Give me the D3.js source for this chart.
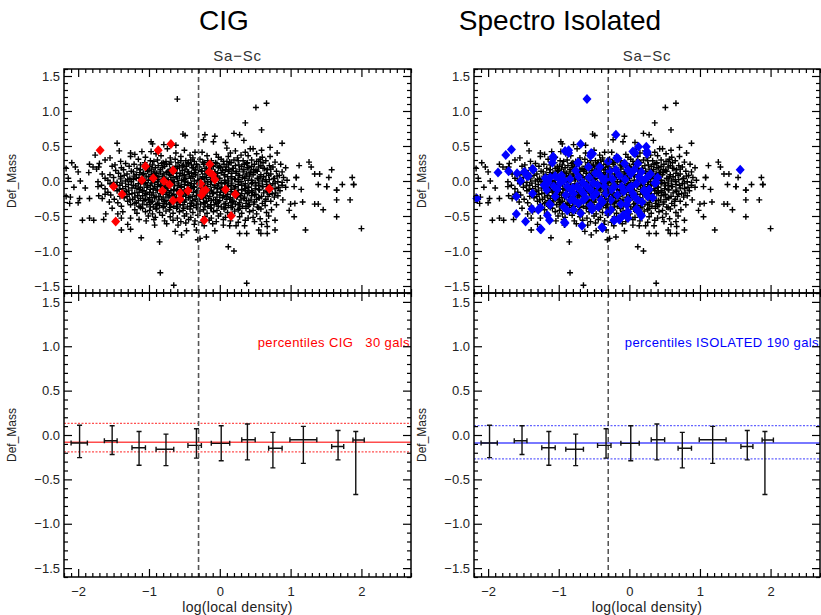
<!DOCTYPE html>
<html>
<head>
<meta charset="UTF-8">
<title>Def_Mass vs log(local density)</title>
<script src="https://d3js.org/d3.v7.min.js"></script>
<style>
  body { margin: 0; background: #fff; }
  text { font-family: "Liberation Sans", Arial, sans-serif; }
</style>
</head>
<body>
<svg id="chart" width="821" height="615"></svg>
<script>
// whole sample (black crosses), same in both top panels
const blackPts = [
  [-0.60,1.17],[0.51,1.05],[0.66,1.11],[0.36,0.83],[0.59,0.73],[0.88,0.54],[0.20,0.68],[0.28,0.66],
  [-0.52,0.67],[-0.49,0.65],[-0.21,0.66],[-0.07,0.64],[-0.23,0.59],[-0.09,0.56],[0.08,0.55],[0.34,0.58],
  [-1.45,0.54],[-0.97,0.56],[-0.95,0.53],[-0.79,0.52],[-0.62,0.51],
  [-1.42,0.43],[-1.10,0.42],[-0.97,0.42],[-0.74,0.46],[-0.50,0.44],[-0.35,0.41],[0.10,0.47],[0.22,0.43],[0.43,0.46],[0.47,0.46],[0.59,0.44],[0.71,0.48],
  [-1.26,0.40],[-1.20,0.38],[-0.90,0.39],[-0.62,0.40],[-0.42,0.37],[-0.25,0.41],[-0.05,0.38],[0.15,0.40],[0.30,0.37],[0.52,0.39],[0.81,0.40],[0.36,0.41],
  [-1.76,0.37],[-1.55,0.33],[-1.26,0.35],[-1.05,0.34],[-0.83,0.36],[-0.70,0.33],[-0.55,0.35],[-0.38,0.33],[-0.18,0.36],[-0.02,0.34],[0.12,0.35],[0.25,0.33],[0.40,0.36],[0.57,0.31],[0.71,0.35],[0.60,0.34],
  [-1.62,0.30],[-1.40,0.28],[-1.15,0.31],[-0.98,0.29],[-0.88,0.30],[-0.76,0.28],[-0.63,0.31],[-0.48,0.29],[-0.41,0.30],[-0.28,0.31],[-0.12,0.29],[0.02,0.31],[0.10,0.28],[0.20,0.30],[0.33,0.29],[0.45,0.30],[0.52,0.28],[0.65,0.29],[0.78,0.27],
  [-2.09,0.26],[-1.84,0.24],[-1.70,0.25],[-1.48,0.23],[-1.33,0.25],[-1.21,0.24],[-1.06,0.26],[-0.95,0.23],[-0.82,0.25],[-0.71,0.24],[-0.59,0.26],[-0.51,0.23],[-0.44,0.25],[-0.33,0.24],[-0.22,0.26],[-0.13,0.23],[-0.04,0.25],[0.06,0.24],[0.16,0.26],[0.27,0.23],[0.38,0.25],[0.49,0.24],[0.61,0.26],[0.70,0.22],[0.86,0.24],
  [-2.04,0.20],[-1.79,0.20],[-1.71,0.20],[-1.52,0.21],[-1.39,0.19],[-1.28,0.21],[-1.17,0.18],[-1.02,0.20],[-0.91,0.19],[-0.78,0.21],[-0.67,0.18],[-0.57,0.20],[-0.47,0.21],[-0.37,0.19],[-0.29,0.20],[-0.19,0.18],[-0.09,0.21],[0.01,0.19],[0.09,0.20],[0.19,0.18],[0.31,0.21],[0.41,0.19],[0.55,0.20],[0.63,0.18],[0.75,0.20],[0.93,0.19],
  [-2.17,0.18],[-1.74,0.17],[-1.47,0.15],[-1.36,0.16],[-1.25,0.14],[-1.12,0.16],[-1.00,0.15],[-0.93,0.13],[-0.84,0.16],[-0.73,0.14],[-0.64,0.16],[-0.53,0.15],[-0.44,0.13],[-0.34,0.16],[-0.25,0.14],[-0.16,0.16],[-0.07,0.13],[0.04,0.15],[0.13,0.16],[0.23,0.14],[0.34,0.16],[0.44,0.13],[0.51,0.15],[0.67,0.16],[0.80,0.14],[0.88,0.13],
  [-2.00,0.13],[-1.85,0.12],[-1.66,0.10],[-1.55,0.09],[-1.43,0.11],[-1.31,0.10],[-1.18,0.09],[-1.08,0.11],[-0.97,0.09],[-0.89,0.11],[-0.79,0.10],[-0.69,0.08],[-0.61,0.11],[-0.50,0.09],[-0.40,0.11],[-0.31,0.09],[-0.21,0.10],[-0.11,0.08],[-0.03,0.11],[0.07,0.09],[0.17,0.11],[0.28,0.08],[0.38,0.10],[0.48,0.12],[0.58,0.09],[0.72,0.10],[0.84,0.08],[1.34,0.10],[1.41,0.10],
  [-2.14,0.04],[-1.62,0.04],[-1.50,0.05],[-1.40,0.06],[-1.27,0.04],[-1.14,0.05],[-1.04,0.07],[-0.95,0.04],[-0.86,0.06],[-0.76,0.03],[-0.66,0.05],[-0.57,0.07],[-0.48,0.04],[-0.38,0.06],[-0.28,0.03],[-0.19,0.05],[-0.09,0.07],[0.00,0.04],[0.11,0.06],[0.21,0.03],[0.32,0.05],[0.42,0.07],[0.53,0.04],[0.62,0.06],[0.76,0.03],[0.90,0.05],[1.08,0.05],[1.54,0.05],[1.87,0.05],
  [-1.97,0.00],[-1.72,-0.01],[-1.58,0.01],[-1.45,-0.02],[-1.33,0.00],[-1.22,0.02],[-1.11,-0.01],[-1.01,0.01],[-0.92,-0.02],[-0.83,0.00],[-0.73,0.02],[-0.64,-0.01],[-0.54,0.01],[-0.45,-0.02],[-0.36,0.00],[-0.26,0.02],[-0.17,-0.01],[-0.08,0.01],[0.02,-0.02],[0.12,0.00],[0.22,0.02],[0.30,-0.01],[0.40,0.01],[0.50,-0.02],[0.60,0.00],[0.70,0.02],[0.82,-0.01],[0.95,0.01],
  [-2.06,-0.09],[-1.67,-0.06],[-1.55,-0.04],[-1.41,-0.06],[-1.29,-0.05],[-1.19,-0.07],[-1.07,-0.04],[-0.98,-0.06],[-0.88,-0.05],[-0.78,-0.07],[-0.69,-0.04],[-0.59,-0.06],[-0.50,-0.05],[-0.41,-0.07],[-0.32,-0.04],[-0.22,-0.06],[-0.13,-0.05],[-0.03,-0.07],[0.07,-0.04],[0.16,-0.06],[0.26,-0.05],[0.35,-0.07],[0.45,-0.04],[0.55,-0.06],[0.66,-0.05],[0.78,-0.03],[0.88,-0.06],[1.39,-0.05],[1.73,-0.05],[1.89,-0.05],
  [-1.90,-0.10],[-1.72,-0.08],[-1.62,-0.11],[-1.50,-0.09],[-1.37,-0.11],[-1.24,-0.10],[-1.13,-0.12],[-1.03,-0.09],[-0.94,-0.11],[-0.84,-0.08],[-0.74,-0.10],[-0.65,-0.12],[-0.55,-0.09],[-0.46,-0.11],[-0.37,-0.08],[-0.27,-0.10],[-0.18,-0.12],[-0.08,-0.09],[0.02,-0.11],[0.11,-0.08],[0.21,-0.10],[0.31,-0.12],[0.40,-0.09],[0.50,-0.11],[0.61,-0.08],[0.72,-0.10],[0.93,-0.09],[1.05,-0.08],[1.15,-0.12],[1.51,-0.08],[1.65,-0.13],
  [-1.58,-0.16],[-1.45,-0.14],[-1.32,-0.15],[-1.20,-0.17],[-1.09,-0.14],[-0.99,-0.16],[-0.90,-0.13],[-0.80,-0.15],[-0.71,-0.17],[-0.61,-0.14],[-0.52,-0.16],[-0.43,-0.13],[-0.33,-0.15],[-0.23,-0.17],[-0.14,-0.14],[-0.04,-0.16],[0.06,-0.13],[0.16,-0.15],[0.25,-0.17],[0.36,-0.14],[0.46,-0.16],[0.56,-0.13],[0.67,-0.15],[0.79,-0.17],[0.85,-0.14],
  [-1.71,-0.21],[-1.62,-0.19],[-1.54,-0.20],[-1.41,-0.22],[-1.28,-0.19],[-1.16,-0.21],[-1.05,-0.18],[-0.96,-0.20],[-0.86,-0.22],[-0.76,-0.19],[-0.67,-0.21],[-0.57,-0.18],[-0.48,-0.20],[-0.39,-0.22],[-0.29,-0.19],[-0.20,-0.21],[-0.10,-0.18],[0.00,-0.20],[0.09,-0.22],[0.19,-0.19],[0.29,-0.21],[0.39,-0.18],[0.49,-0.20],[0.59,-0.22],[0.70,-0.19],[0.82,-0.21],
  [-2.17,-0.22],[-2.11,-0.23],[-1.98,-0.25],[-1.84,-0.25],[-1.66,-0.25],[-1.49,-0.26],[-1.35,-0.24],[-1.23,-0.26],[-1.12,-0.25],[-1.01,-0.27],[-0.92,-0.24],[-0.82,-0.26],[-0.73,-0.23],[-0.63,-0.25],[-0.54,-0.27],[-0.44,-0.24],[-0.35,-0.26],[-0.25,-0.23],[-0.16,-0.25],[-0.06,-0.27],[0.04,-0.24],[0.14,-0.26],[0.24,-0.23],[0.34,-0.25],[0.44,-0.27],[0.55,-0.24],[0.65,-0.26],[0.77,-0.23],[0.89,-0.27],[1.65,-0.27],[1.84,-0.27],
  [-2.12,-0.32],[-2.00,-0.31],[-1.56,-0.30],[-1.44,-0.31],[-1.30,-0.29],[-1.18,-0.31],[-1.07,-0.28],[-0.97,-0.30],[-0.88,-0.32],[-0.78,-0.29],[-0.69,-0.31],[-0.59,-0.28],[-0.50,-0.30],[-0.40,-0.32],[-0.31,-0.29],[-0.21,-0.31],[-0.12,-0.28],[-0.02,-0.30],[0.08,-0.32],[0.18,-0.29],[0.28,-0.31],[0.38,-0.28],[0.49,-0.30],[0.60,-0.32],[0.72,-0.29],[1.00,-0.33],[1.06,-0.32],[1.17,-0.30],[1.34,-0.33],[1.39,-0.33],
  [-1.52,-0.39],[-1.39,-0.36],[-1.26,-0.34],[-1.14,-0.36],[-1.03,-0.34],[-0.94,-0.37],[-0.85,-0.35],[-0.75,-0.33],[-0.65,-0.36],[-0.56,-0.34],[-0.46,-0.37],[-0.37,-0.35],[-0.27,-0.33],[-0.17,-0.36],[-0.08,-0.34],[0.02,-0.37],[0.12,-0.35],[0.22,-0.33],[0.32,-0.36],[0.42,-0.34],[0.53,-0.37],[0.64,-0.35],[0.80,-0.34],
  [-1.37,-0.44],[-1.20,-0.41],[-1.09,-0.39],[-0.99,-0.42],[-0.90,-0.40],[-0.80,-0.38],[-0.71,-0.41],[-0.61,-0.39],[-0.52,-0.42],[-0.42,-0.40],[-0.33,-0.38],[-0.23,-0.41],[-0.13,-0.39],[-0.04,-0.42],[0.06,-0.40],[0.16,-0.38],[0.26,-0.41],[0.37,-0.39],[0.47,-0.42],[0.58,-0.40],[0.73,-0.41],[0.98,-0.42],[1.46,-0.41],
  [-1.44,-0.47],[-1.61,-0.47],[-1.17,-0.46],[-1.05,-0.44],[-0.95,-0.47],[-0.85,-0.45],[-0.76,-0.43],[-0.66,-0.46],[-0.57,-0.44],[-0.47,-0.47],[-0.38,-0.45],[-0.28,-0.43],[-0.18,-0.46],[-0.09,-0.44],[0.01,-0.47],[0.11,-0.45],[0.21,-0.43],[0.31,-0.46],[0.42,-0.44],[0.52,-0.47],[0.66,-0.45],
  [-1.39,-0.53],[-1.26,-0.53],[-1.14,-0.55],[-1.01,-0.50],[-0.91,-0.52],[-0.81,-0.49],[-0.70,-0.51],[-0.60,-0.53],[-0.50,-0.50],[-0.41,-0.52],[-0.31,-0.49],[-0.21,-0.51],[-0.12,-0.53],[-0.02,-0.50],[0.08,-0.52],[0.18,-0.49],[0.28,-0.51],[0.40,-0.53],[0.47,-0.52],[0.57,-0.54],[0.69,-0.50],[1.05,-0.51],[1.65,-0.51],
  [-1.94,-0.56],[-1.84,-0.53],[-1.78,-0.56],[-1.64,-0.55],[-1.04,-0.57],[-0.93,-0.55],[-0.78,-0.57],[-0.66,-0.56],[-0.55,-0.58],[-0.44,-0.55],[-0.35,-0.57],[-0.25,-0.59],[-0.15,-0.56],[-0.05,-0.58],[0.05,-0.55],[0.15,-0.57],[0.26,-0.59],[0.36,-0.56],[0.49,-0.58],[0.66,-0.58],[0.78,-0.56],
  [-1.30,-0.62],[-0.92,-0.63],[-0.75,-0.61],[-0.59,-0.63],[-0.48,-0.60],[-0.36,-0.62],[-0.22,-0.64],[-0.10,-0.61],[0.05,-0.63],[0.14,-0.64],[0.35,-0.64],[0.23,-0.64],[0.67,-0.65],[0.59,-0.62],
  [-1.39,-0.70],[-1.26,-0.69],[-0.63,-0.72],[-0.47,-0.71],[-0.33,-0.70],[-0.07,-0.71],[0.28,-0.75],[0.38,-0.75],[0.58,-0.75],[0.67,-0.75],[0.55,-0.70],[0.78,-0.70],
  [-1.11,-0.81],[-0.85,-0.87],[-0.31,-0.84],[-0.19,-0.80],[-0.28,-0.82],[-0.54,-0.77],[0.12,-0.94],[0.20,-1.00],
  [-0.84,-1.31],[-0.65,-1.49],[0.38,-1.46],[1.21,-0.70],[2.00,-0.68],
  [1.26,0.27],[1.29,0.20],[1.12,0.22],[1.58,0.16],[1.08,0.05],[1.51,-0.08],[1.65,-0.13],[1.89,-0.05]
];

// extra crosses in the crowded core of the cloud
const blackCorePts = [
  [-0.93,0.28],[-0.80,0.26],[-0.69,0.27],[-0.55,0.29],[-0.45,0.26],[-0.36,0.28],[-0.24,0.27],[-0.17,0.29],[-0.06,0.26],[0.05,0.28],[0.14,0.27],[0.26,0.29],[0.39,0.26],[0.55,0.28],
  [-1.12,0.23],[-0.99,0.21],[-0.87,0.22],[-0.75,0.24],[-0.62,0.21],[-0.53,0.22],[-0.40,0.23],[-0.31,0.21],[-0.23,0.24],[-0.11,0.22],[0.00,0.21],[0.12,0.23],[0.22,0.22],[0.35,0.24],[0.45,0.21],[0.58,0.22],
  [-1.05,0.18],[-0.96,0.17],[-0.81,0.19],[-0.70,0.16],[-0.60,0.18],[-0.49,0.17],[-0.39,0.19],[-0.30,0.16],[-0.21,0.18],[-0.12,0.17],[-0.02,0.19],[0.08,0.16],[0.18,0.18],[0.28,0.17],[0.39,0.19],[0.48,0.16],[0.61,0.18],[0.72,0.17],
  [-1.22,0.13],[-1.13,0.12],[-1.02,0.14],[-0.93,0.11],[-0.84,0.13],[-0.75,0.12],[-0.65,0.14],[-0.56,0.11],[-0.46,0.13],[-0.36,0.12],[-0.26,0.14],[-0.16,0.11],[-0.07,0.13],[0.02,0.12],[0.12,0.14],[0.23,0.11],[0.33,0.13],[0.43,0.12],[0.53,0.14],[0.66,0.11],
  [-1.35,0.08],[-1.21,0.07],[-1.09,0.09],[-1.00,0.06],[-0.91,0.08],[-0.81,0.07],[-0.71,0.09],[-0.61,0.06],[-0.52,0.08],[-0.43,0.07],[-0.34,0.09],[-0.24,0.06],[-0.14,0.08],[-0.05,0.07],[0.06,0.09],[0.16,0.06],[0.26,0.08],[0.37,0.07],[0.47,0.09],[0.57,0.06],[0.69,0.08],[0.81,0.07],
  [-1.40,0.03],[-1.30,0.02],[-1.18,0.04],[-1.06,0.01],[-0.97,0.03],[-0.88,0.02],[-0.78,0.04],[-0.69,0.01],[-0.60,0.03],[-0.50,0.02],[-0.41,0.04],[-0.31,0.01],[-0.22,0.03],[-0.13,0.02],[-0.03,0.04],[0.07,0.01],[0.17,0.03],[0.26,0.02],[0.35,0.04],[0.45,0.01],[0.55,0.03],[0.65,0.02],[0.77,0.04],
  [-1.50,-0.02],[-1.38,-0.03],[-1.25,-0.01],[-1.15,-0.04],[-1.05,-0.02],[-0.96,-0.03],[-0.87,-0.01],[-0.77,-0.04],[-0.68,-0.02],[-0.58,-0.03],[-0.49,-0.01],[-0.40,-0.04],[-0.30,-0.02],[-0.21,-0.03],[-0.12,-0.01],[-0.02,-0.04],[0.08,-0.02],[0.17,-0.03],[0.27,-0.01],[0.36,-0.04],[0.46,-0.02],[0.55,-0.03],[0.66,-0.01],[0.75,-0.04],[0.88,-0.02],
  [-1.46,-0.07],[-1.33,-0.08],[-1.22,-0.06],[-1.12,-0.09],[-1.02,-0.07],[-0.92,-0.08],[-0.83,-0.06],[-0.73,-0.09],[-0.64,-0.07],[-0.54,-0.08],[-0.45,-0.06],[-0.36,-0.09],[-0.26,-0.07],[-0.17,-0.08],[-0.07,-0.06],[0.03,-0.09],[0.12,-0.07],[0.22,-0.08],[0.31,-0.06],[0.41,-0.09],[0.51,-0.07],[0.60,-0.08],[0.71,-0.06],[0.83,-0.09],
  [-1.42,-0.12],[-1.29,-0.13],[-1.17,-0.11],[-1.07,-0.14],[-0.98,-0.12],[-0.88,-0.13],[-0.79,-0.11],[-0.69,-0.14],[-0.60,-0.12],[-0.50,-0.13],[-0.41,-0.11],[-0.31,-0.14],[-0.22,-0.12],[-0.12,-0.13],[-0.03,-0.11],[0.07,-0.14],[0.16,-0.12],[0.26,-0.13],[0.36,-0.11],[0.45,-0.14],[0.55,-0.12],[0.66,-0.13],[0.78,-0.11],
  [-1.35,-0.17],[-1.24,-0.18],[-1.14,-0.16],[-1.03,-0.19],[-0.94,-0.17],[-0.84,-0.18],[-0.75,-0.16],[-0.65,-0.19],[-0.56,-0.17],[-0.47,-0.18],[-0.37,-0.16],[-0.28,-0.19],[-0.18,-0.17],[-0.09,-0.18],[0.01,-0.16],[0.11,-0.19],[0.21,-0.17],[0.31,-0.18],[0.41,-0.16],[0.51,-0.19],[0.62,-0.17],[0.74,-0.18],
  [-1.31,-0.22],[-1.20,-0.23],[-1.09,-0.21],[-0.99,-0.24],[-0.90,-0.22],[-0.80,-0.23],[-0.71,-0.21],[-0.61,-0.24],[-0.52,-0.22],[-0.42,-0.23],[-0.33,-0.21],[-0.23,-0.24],[-0.14,-0.22],[-0.04,-0.23],[0.05,-0.21],[0.15,-0.24],[0.25,-0.22],[0.35,-0.23],[0.45,-0.21],[0.56,-0.24],[0.68,-0.22],
  [-1.27,-0.27],[-1.15,-0.28],[-1.05,-0.26],[-0.95,-0.29],[-0.86,-0.27],[-0.76,-0.28],[-0.66,-0.26],[-0.57,-0.29],[-0.48,-0.27],[-0.38,-0.28],[-0.29,-0.26],[-0.19,-0.29],[-0.09,-0.27],[0.00,-0.28],[0.10,-0.26],[0.20,-0.29],[0.30,-0.27],[0.41,-0.28],[0.52,-0.26],[0.64,-0.29],
  [-1.20,-0.32],[-1.09,-0.33],[-0.99,-0.31],[-0.90,-0.34],[-0.80,-0.32],[-0.71,-0.33],[-0.61,-0.31],[-0.52,-0.34],[-0.42,-0.32],[-0.33,-0.33],[-0.23,-0.31],[-0.13,-0.34],[-0.04,-0.32],[0.06,-0.33],[0.16,-0.31],[0.26,-0.34],[0.37,-0.32],[0.48,-0.33],
  [-1.12,-0.38],[-0.98,-0.37],[-0.89,-0.39],[-0.79,-0.36],[-0.70,-0.38],[-0.60,-0.37],[-0.51,-0.39],[-0.41,-0.36],[-0.31,-0.38],[-0.21,-0.37],[-0.12,-0.39],[-0.02,-0.36],[0.08,-0.38],[0.18,-0.37],[0.28,-0.39],[0.40,-0.36],[0.55,-0.38]
];

// CIG galaxies (red diamonds)
const redPts = [
  [-1.69,0.44],[-0.69,0.53],[-0.87,0.44],[-1.05,0.21],[-0.66,0.15],[-1.10,0.01],[-0.94,0.04],[-0.79,0.00],
  [-0.71,-0.05],[-1.50,-0.08],[-1.38,-0.19],[-0.81,-0.14],[-0.56,-0.17],[-0.45,-0.14],[-0.66,-0.28],[-0.56,-0.26],
  [-0.27,-0.04],[-0.14,0.24],[-0.15,0.13],[-0.10,0.09],[-0.07,0.02],[-0.24,-0.15],[-0.26,-0.20],[-0.20,-0.13],
  [0.08,-0.12],[0.22,-0.19],[0.70,-0.11],[-1.47,-0.58],[-0.22,-0.56],[0.16,-0.50]
];

// spectroscopically isolated galaxies (blue diamonds)
const bluePts = [
  [-0.60,1.17],[-1.67,0.45],[-1.75,0.37],[-1.86,0.12],[-1.71,0.14],[-2.16,-0.25],[-1.60,-0.22],[-1.60,-0.47],
  [-1.47,-0.58],[-1.26,-0.69],[-1.37,0.17],[-1.59,0.11],[-1.49,0.13],[-1.45,0.07],[-1.54,0.00],[-1.37,-0.18],
  [-1.38,-0.40],[-1.26,-0.38],[-1.13,-0.56],[-1.16,-0.49],[-1.12,-0.34],[-1.08,0.35],[-1.09,0.26],[-0.91,0.43],
  [-0.86,0.44],[-0.69,0.53],[-0.73,0.26],[-0.76,0.15],[-1.19,0.04],[-1.12,0.05],[-1.05,0.07],[-1.00,0.04],
  [-1.21,-0.06],[-1.17,-0.13],[-1.07,-0.08],[-0.98,-0.03],[-0.93,0.01],[-0.88,-0.08],[-0.83,-0.13],[-0.79,-0.18],
  [-0.74,-0.08],[-0.69,-0.13],[-0.65,-0.18],[-0.60,-0.08],[-0.55,-0.13],[-0.51,-0.22],[-0.65,-0.27],[-0.72,-0.32],
  [-0.83,-0.27],[-0.93,-0.37],[-0.88,-0.42],[-0.79,-0.41],[-0.69,-0.46],[-0.91,-0.60],[-0.67,-0.64],[-0.53,-0.41],
  [-0.51,-0.03],[-0.48,0.11],[-0.58,0.20],[-0.52,0.39],[-0.55,0.36],
  [-0.19,0.66],[0.24,0.49],[0.25,0.42],[0.05,0.42],[0.07,0.40],[-0.16,0.32],[-0.30,0.28],[-0.07,0.25],
  [0.12,0.25],[-0.19,0.16],[-0.02,0.16],[0.07,0.16],[0.17,0.13],[0.26,0.06],[0.36,-0.03],[-0.44,0.11],
  [-0.40,0.06],[-0.30,0.06],[-0.35,-0.08],[-0.21,-0.08],[-0.11,-0.08],[0.03,-0.08],[0.05,-0.18],[0.21,-0.13],
  [0.26,-0.22],[0.12,-0.27],[-0.02,-0.27],[-0.26,-0.27],[-0.40,-0.27],[-0.44,-0.37],[-0.26,-0.41],[-0.04,-0.34],
  [-0.02,-0.44],[0.10,-0.40],[0.17,-0.49],[-0.02,-0.53],[-0.21,-0.56],[-0.14,-0.55],[-0.39,-0.66],[-0.09,-0.49],
  [1.57,0.16],[-1.25,-0.69],[-0.38,-0.67],[-0.92,-0.59],[-0.22,-0.56],[-0.15,-0.54],[0.17,-0.50],[-1.29,-0.41],
  [-1.13,-0.33],[0.38,-0.02],[0.21,-0.15],[0.13,0.49],[0.08,0.40],[0.25,0.39],[-0.18,0.33],[-0.54,0.40],
  [-0.86,0.40],[-1.08,0.32],[-0.72,0.26],[-1.36,0.16],[-1.48,0.12],[-1.43,0.07],
  [-1.15,-0.02],[-1.02,-0.12],[-0.96,0.08],[-0.90,-0.20],[-0.84,0.03],[-0.78,-0.28],[-0.72,0.06],[-0.66,-0.02],
  [-0.62,-0.24],[-0.57,0.05],[-0.47,-0.18],[-0.45,-0.06],[-0.42,0.20],[-0.38,-0.30],[-0.36,0.00],[-0.33,-0.18],
  [-0.28,0.14],[-0.25,-0.12],[-0.24,0.03],[-0.17,-0.20],[-0.14,0.08],[-0.12,-0.33],[-0.08,-0.15],[-0.06,0.02],
  [0.00,-0.10],[0.02,0.10],[0.07,-0.22],[0.10,-0.04],[0.14,0.06],[0.18,-0.30],[0.20,0.00],[0.28,-0.12],
  [0.30,0.10],[0.33,-0.24],[0.40,0.05],[0.12,-0.42],[-0.30,-0.45],[-0.55,-0.35],[-0.80,-0.10],[-1.05,-0.22]
];

// binned statistics of the whole sample (bottom panels)
const binX   = [-1.98, -1.52, -1.14, -0.76, -0.33, 0.02, 0.39, 0.75, 1.18, 1.67, 1.92];
const binXlo = [-2.10, -1.63, -1.24, -0.90, -0.45, -0.12, 0.31, 0.69, 0.99, 1.58, 1.88];
const binXhi = [-1.87, -1.45, -1.05, -0.65, -0.26, 0.14, 0.50, 0.88, 1.37, 1.75, 2.04];
const binY   = [-0.090, -0.064, -0.143, -0.160, -0.117, -0.094, -0.053, -0.150, -0.053, -0.130, -0.056];
const binYlo = [-0.255, -0.220, -0.340, -0.345, -0.260, -0.290, -0.280, -0.370, -0.320, -0.280, -0.670];
const binYhi = [0.110, 0.105, 0.040, 0.010, 0.070, 0.105, 0.124, 0.030, 0.097, 0.050, 0.040];

// percentiles [low, median, high]
const cigPct = [-0.19, -0.082, 0.13];
const isoPct = [-0.27, -0.09, 0.105];

const xMajor = [-2, -1, 0, 1, 2];
const yMajor = [-1.5, -1.0, -0.5, 0.0, 0.5, 1.0, 1.5];
const densityCut = -0.30;

const svg = d3.select("#chart");

const panels = [
  { x0: 64,  x1: 411, title: "CIG", titleX: 224, pts: redPts, color: "#ff0000", dotColor: "#ff3030",
    pct: cigPct, label: "percentiles CIG   30 gals", cutColor: "#555", cutW: 1.6 },
  { x0: 474, x1: 820, title: "Spectro Isolated", titleX: 560, pts: bluePts, color: "#0000ff", dotColor: "#4848ff",
    pct: isoPct, label: "percentiles ISOLATED 190 gals", cutColor: "#111", cutW: 1.1 }
];

const xMinor = d3.range(-22, 28).filter(d => d % 10 !== 0).map(d => d / 10);
const yMinor = d3.range(-16, 17).filter(d => d % 5 !== 0).map(d => d / 10);

function styleAxis(g) {
  g.select(".domain").remove();
  g.selectAll("line").attr("stroke", "#000").attr("stroke-width", 1.2);
  g.selectAll("text").attr("font-size", 13).attr("fill", "#222")
    .attr("font-family", "Liberation Sans, Arial, sans-serif");
}

function frame(g, x, y, showX) {
  const [yb, yt] = y.range();
  const [xl, xr] = x.range();
  const none = () => "";
  g.append("g").attr("transform", `translate(0,${yb})`)
    .call(d3.axisBottom(x).tickValues(xMajor).tickSize(-8).tickPadding(10)
      .tickFormat(showX ? d3.format("d") : none)).call(styleAxis);
  g.append("g").attr("transform", `translate(0,${yb})`)
    .call(d3.axisBottom(x).tickValues(xMinor).tickSize(-4).tickFormat(none)).call(styleAxis);
  g.append("g").attr("transform", `translate(0,${yt})`)
    .call(d3.axisTop(x).tickValues(xMajor).tickSize(-8).tickFormat(none)).call(styleAxis);
  g.append("g").attr("transform", `translate(0,${yt})`)
    .call(d3.axisTop(x).tickValues(xMinor).tickSize(-4).tickFormat(none)).call(styleAxis);
  g.append("g").attr("transform", `translate(${xl},0)`)
    .call(d3.axisLeft(y).tickValues(yMajor).tickSize(-8).tickPadding(4)
      .tickFormat(d3.format(".1f"))).call(styleAxis);
  g.append("g").attr("transform", `translate(${xl},0)`)
    .call(d3.axisLeft(y).tickValues(yMinor).tickSize(-4).tickFormat(none)).call(styleAxis);
  g.append("g").attr("transform", `translate(${xr},0)`)
    .call(d3.axisRight(y).tickValues(yMajor).tickSize(-8).tickFormat(none)).call(styleAxis);
  g.append("g").attr("transform", `translate(${xr},0)`)
    .call(d3.axisRight(y).tickValues(yMinor).tickSize(-4).tickFormat(none)).call(styleAxis);
  g.append("rect").attr("x", xl).attr("y", yt).attr("width", xr - xl).attr("height", yb - yt)
    .attr("fill", "none").attr("stroke", "#000").attr("stroke-width", 1.5);
}

const plus = "M-3,0H3M0,-3V3";
const diamond = "M0,-5L4.5,0L0,5L-4.5,0Z";

panels.forEach(p => {
  const x = d3.scaleLinear().domain([-2.2, 2.7]).range([p.x0, p.x1]);
  const yT = d3.scaleLinear().domain([-1.6, 1.6]).range([293, 69]);
  const yB = d3.scaleLinear().domain([-1.6, 1.6]).range([577, 293]);
  const g = svg.append("g");
  const cx = (p.x0 + p.x1) / 2;

  g.append("text").attr("x", p.titleX).attr("y", 30).attr("text-anchor", "middle")
    .attr("font-size", 28).attr("fill", "#000").text(p.title);
  g.append("text").attr("x", cx).attr("y", 61).attr("text-anchor", "middle")
    .attr("font-size", 15).attr("letter-spacing", 0.8).attr("fill", "#333").text("Sa\u2212Sc");

  // top: scatter
  g.append("g").selectAll("path").data(blackPts.concat(blackCorePts)).join("path")
    .attr("transform", d => `translate(${x(d[0])},${yT(d[1])})`)
    .attr("d", plus).attr("stroke", "#000").attr("stroke-width", 1.4).attr("fill", "none");
  g.append("g").selectAll("path").data(p.pts).join("path")
    .attr("transform", d => `translate(${x(d[0])},${yT(d[1])})`)
    .attr("d", diamond).attr("fill", p.color);

  // bottom: percentile lines
  const pctStyle = [{ dash: "2,1.5", w: 1.2 }, { dash: null, w: 1.6 }, { dash: "2,1.5", w: 1.2 }];
  g.append("g").selectAll("line").data(p.pct).join("line")
    .attr("x1", x.range()[0]).attr("x2", x.range()[1])
    .attr("y1", d => yB(d)).attr("y2", d => yB(d))
    .attr("stroke", (d, i) => i === 1 ? p.color : p.dotColor)
    .attr("stroke-opacity", (d, i) => i === 1 ? 0.7 : 0.85)
    .attr("stroke-width", (d, i) => pctStyle[i].w)
    .attr("stroke-dasharray", (d, i) => pctStyle[i].dash);

  // error bars
  const eb = g.append("g").attr("stroke", "#111").attr("stroke-width", 1.4).attr("fill", "none");
  binX.forEach((bx, i) => {
    const X = x(bx), Y = yB(binY[i]);
    const xa = x(binXlo[i]), xb = x(binXhi[i]);
    const ya = yB(binYlo[i]), yb = yB(binYhi[i]);
    eb.append("path").attr("d",
      `M${X},${ya}V${yb}M${X - 2.5},${ya}H${X + 2.5}M${X - 2.5},${yb}H${X + 2.5}` +
      `M${xa},${Y}H${xb}M${xa},${Y - 2.5}V${Y + 2.5}M${xb},${Y - 2.5}V${Y + 2.5}`);
  });

  g.append("text").attr("x", p.x1 - 1).attr("y", 347).attr("text-anchor", "end")
    .attr("font-size", 13).attr("letter-spacing", 0.4).attr("fill", p.color)
    .style("white-space", "pre").text(p.label);

  // density cut
  g.append("line").attr("x1", x(densityCut)).attr("x2", x(densityCut))
    .attr("y1", 69).attr("y2", 577).attr("stroke", p.cutColor)
    .attr("stroke-width", p.cutW).attr("stroke-dasharray", "5,3");

  frame(g, x, yT, false);
  frame(g, x, yB, true);

  // axis titles
  [yT, yB].forEach(y => {
    const ym = (y.range()[0] + y.range()[1]) / 2;
    g.append("text").attr("transform", `translate(${p.x0 - 48},${ym}) rotate(-90)`)
      .attr("text-anchor", "middle").attr("font-size", 12).attr("fill", "#222").text("Def_Mass");
  });
  g.append("text").attr("x", cx).attr("y", 612).attr("text-anchor", "middle")
    .attr("font-size", 14).attr("letter-spacing", 0.3).attr("fill", "#222").text("log(local density)");
});
</script>
</body>
</html>
